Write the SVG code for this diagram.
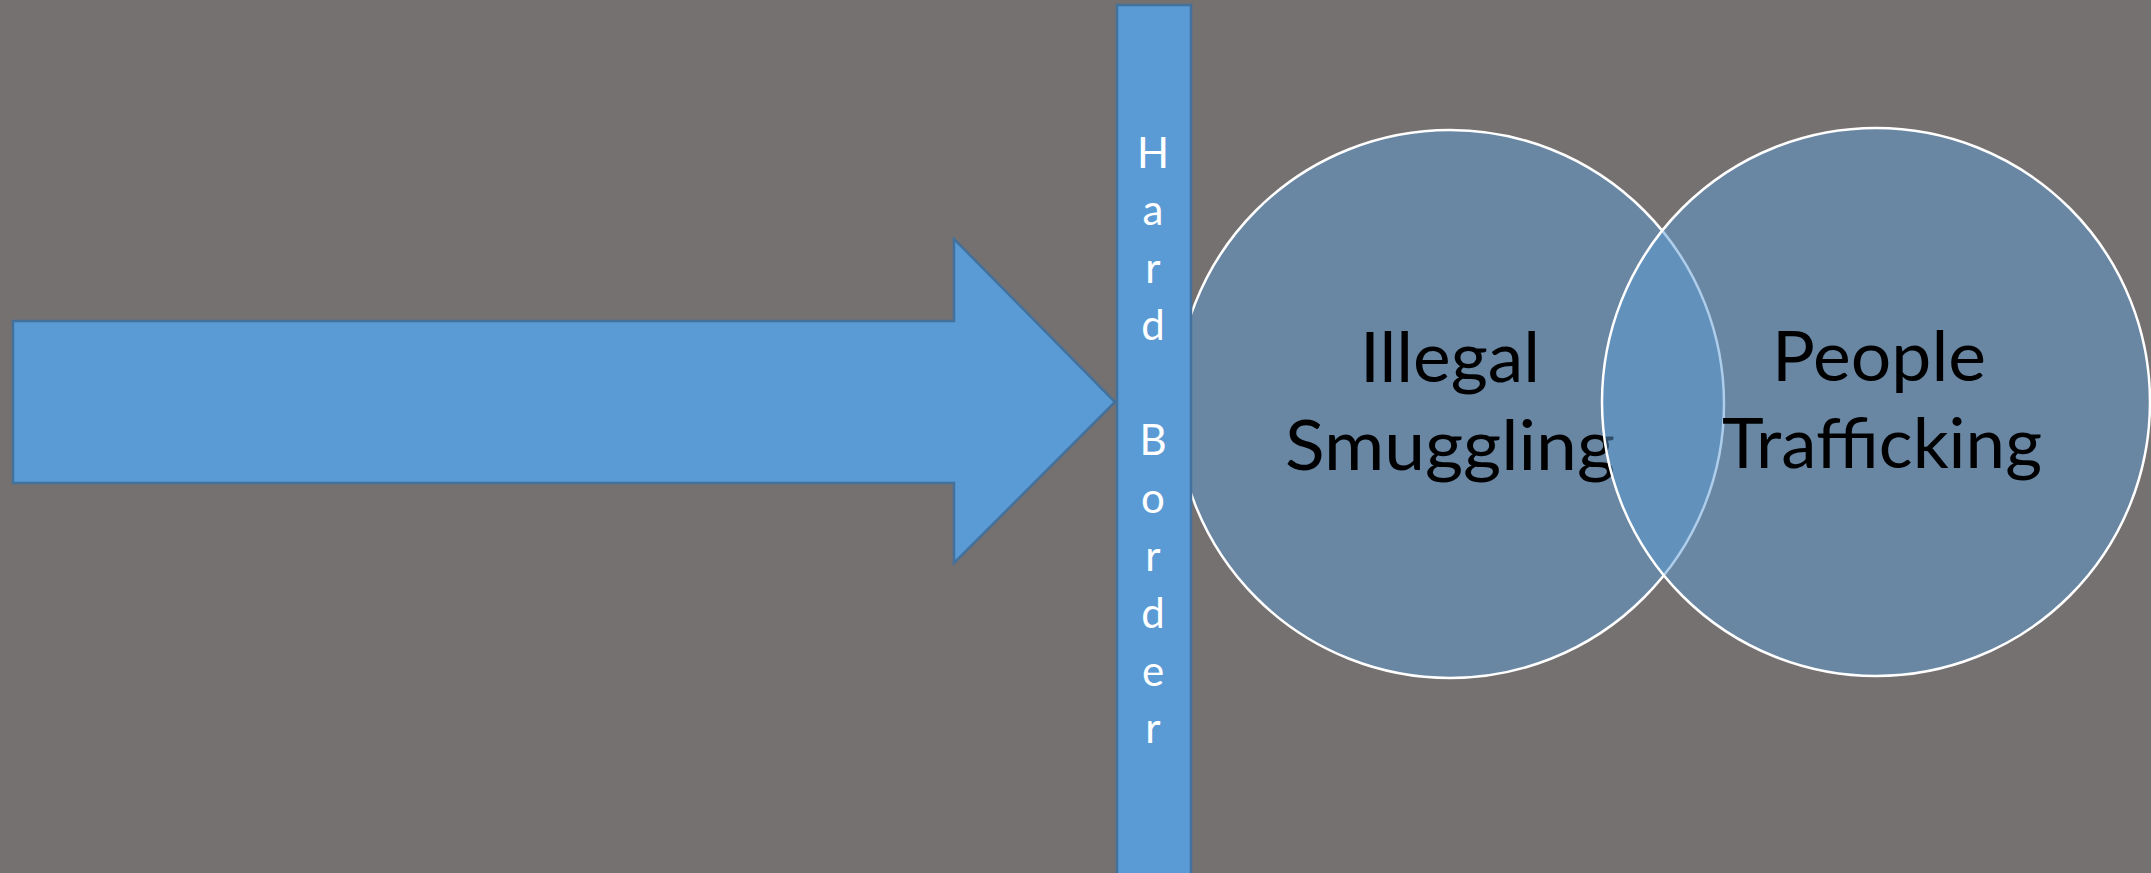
<svg xmlns="http://www.w3.org/2000/svg" width="2151" height="873" viewBox="0 0 2151 873">
  <style>
    .shape { fill: #5B9BD5; stroke: #41719C; stroke-width: 2.5; }
    .circle { fill: #5B9BD5; fill-opacity: 0.5; stroke: #FFFFFF; stroke-width: 2.5; }
    .big { font-family: Lato, "Liberation Sans", sans-serif; font-size: 70px; fill: #000000; text-anchor: middle; }
    .bar-text { font-family: Lato, "Liberation Sans", sans-serif; font-size: 42px; fill: #FFFFFF; text-anchor: middle; }
  </style>
  <rect x="0" y="0" width="2151" height="873" fill="#767171"/>
  <g id="connectors"></g>
  <g id="arrow">
    <polygon class="shape" points="13,321 954,321 954,239 1115,402 954,563 954,483 13,483"/>
  </g>
  <g id="illegal-smuggling">
    <circle class="circle" cx="1450" cy="404" r="274"/>
    <text class="big" x="1450" y="382" textLength="180" lengthAdjust="spacingAndGlyphs">Illegal</text>
    <text class="big" x="1450" y="470" textLength="330" lengthAdjust="spacingAndGlyphs">Smuggling</text>
  </g>
  <g id="people-trafficking">
    <circle class="circle" cx="1876" cy="402" r="274"/>
    <text class="big" x="1879" y="381" textLength="214" lengthAdjust="spacingAndGlyphs">People</text>
    <text class="big" x="1882" y="468" textLength="320" lengthAdjust="spacingAndGlyphs">Trafficking</text>
  </g>
  <g id="hard-border">
    <rect class="shape" x="1117" y="5" width="74" height="880"/>
    <text class="bar-text" x="1153" y="168">H</text>
    <text class="bar-text" x="1153" y="225">a</text>
    <text class="bar-text" x="1153" y="283">r</text>
    <text class="bar-text" x="1153" y="340">d</text>
    <text class="bar-text" x="1153" y="455">B</text>
    <text class="bar-text" x="1153" y="513">o</text>
    <text class="bar-text" x="1153" y="571">r</text>
    <text class="bar-text" x="1153" y="628">d</text>
    <text class="bar-text" x="1153" y="686">e</text>
    <text class="bar-text" x="1153" y="743">r</text>
  </g>
</svg>
